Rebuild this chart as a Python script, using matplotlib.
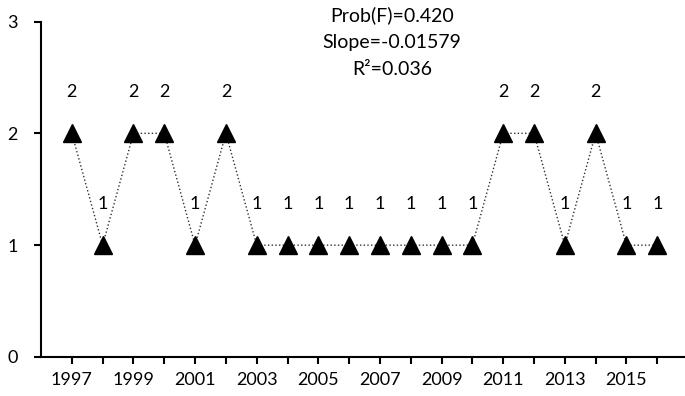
import matplotlib
matplotlib.use("Agg")
import matplotlib.pyplot as plt

# Yearly counts
years = list(range(1997, 2017))
counts = [2, 1, 2, 2, 1, 2, 1, 1, 1, 1, 1, 1, 1, 1, 2, 2, 1, 2, 1, 1]

prob_f = 0.420
slope = -0.01579
r2 = 0.036

plt.rcParams['font.family'] = ['Lato', 'DejaVu Sans']

fig = plt.figure(figsize=(6.85, 3.96), dpi=100)
ax = fig.add_axes([0.0599, 0.0985, 0.9401, 0.8472])

# dotted connecting line and triangle markers
ax.plot(years, counts, linestyle=':', color='#303030', linewidth=1.0, zorder=1)
ax.plot(years, counts, linestyle='none', marker='^', markersize=13,
        color='black', zorder=2)

# value labels above each point
for x, y in zip(years, counts):
    ax.annotate(str(y), (x, y), xytext=(0, 24), textcoords='offset points',
                ha='center', va='bottom', fontsize=13)

# regression stats, one line each
stats = ["Prob(F)=%.3f" % prob_f, "Slope=%.5f" % slope, "R²=%.3f" % r2]
for i, s in enumerate(stats):
    ax.text(0.545, 1.019 - i * 0.0805, s, transform=ax.transAxes,
            ha='center', va='center', fontsize=14)

ax.set_xlim(1996, 2016.9)
ax.set_ylim(0, 3)
ax.set_yticks([0, 1, 2, 3])
ax.set_xticks(years)
ax.set_xticklabels([str(y) if (y - 1997) % 2 == 0 else '' for y in years])

for side in ['top', 'right']:
    ax.spines[side].set_visible(False)
for side in ['left', 'bottom']:
    ax.spines[side].set_linewidth(1.5)
ax.tick_params(axis='both', direction='out', length=5, width=1.5,
               labelsize=13, pad=6)
ax.tick_params(axis='y', pad=12)

fig.savefig("out.png", dpi=100)
